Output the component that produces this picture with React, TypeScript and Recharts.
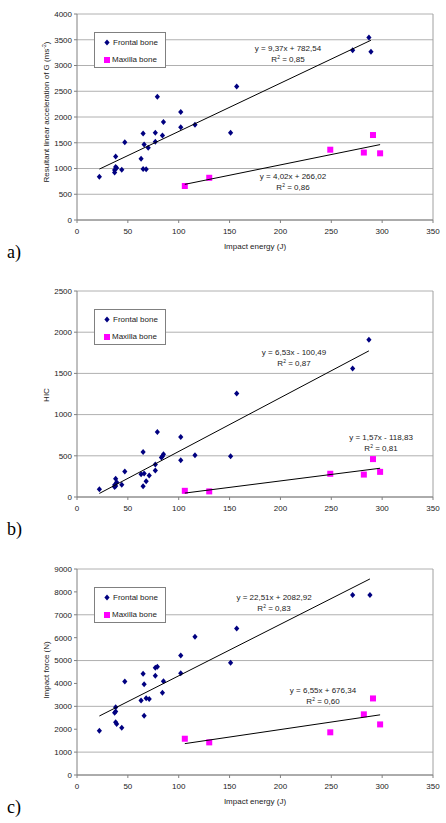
import { CartesianGrid, ReferenceLine, Scatter, ScatterChart, XAxis, YAxis } from "recharts";

const energyTicks = [0, 50, 100, 150, 200, 250, 300, 350];
const maxillaEnergy = [106, 130, 249, 282, 291, 298];

// a) resultant linear acceleration
const accelFrontalEnergy = [22, 37, 37, 38, 39, 38, 44, 47, 63, 65, 68, 65, 66, 70, 77, 77, 79, 84, 85, 102, 102, 116, 151, 157, 271, 287, 289];
const accelFrontal = [840, 920, 970, 1030, 1010, 1235, 975, 1510, 1190, 990, 985, 1680, 1465, 1405, 1520, 1695, 2395, 1640, 1905, 1800, 2095, 1850, 1695, 2590, 3295, 3545, 3265];
const accelMaxilla = [660, 820, 1365, 1310, 1650, 1295];
const accelTicks = [0, 500, 1000, 1500, 2000, 2500, 3000, 3500, 4000];

// b) HIC
const hicFrontalEnergy = [22, 37, 37, 38, 39, 38, 44, 47, 63, 65, 68, 65, 66, 71, 77, 77, 79, 83, 84, 85, 102, 102, 116, 151, 157, 271, 287];
const hicFrontal = [95, 145, 120, 220, 180, 135, 150, 310, 275, 130, 190, 545, 285, 262, 323, 395, 790, 480, 495, 520, 446, 728, 506, 494, 1257, 1560, 1908];
const hicMaxilla = [75, 68, 282, 272, 460, 305];
const hicTicks = [0, 500, 1000, 1500, 2000, 2500];

// c) impact force
const forceFrontalEnergy = [22, 37, 38, 38, 38, 39, 44, 47, 63, 65, 66, 66, 68, 71, 77, 77, 79, 84, 85, 102, 102, 116, 151, 157, 271, 288];
const forceFrontal = [1930, 2720, 2770, 2955, 2300, 2225, 2065, 4080, 3260, 4425, 3960, 2585, 3350, 3320, 4335, 4690, 4730, 3595, 4095, 4440, 5225, 6040, 4905, 6405, 7860, 7860];
const forceMaxilla = [1585, 1425, 1865, 2650, 3345, 2210];
const forceTicks = [0, 1000, 2000, 3000, 4000, 5000, 6000, 7000, 8000, 9000];

// trend line coefficients [slope, intercept]
const accelFrontalFit = [9.37, 782.54];
const accelMaxillaFit = [4.02, 266.02];
const hicFrontalFit = [6.53, -100.49];
const hicMaxillaFit = [1.57, -118.83];
const forceFrontalFit = [22.51, 2082.92];
const forceMaxillaFit = [6.55, 676.34];

const FONT = "'Liberation Sans', Arial, sans-serif";
const TEXT = "#222";

const pairs = (xs: number[], ys: number[]) => xs.map((x, i) => ({ x, y: ys[i] }));
const trend = (xs: number[], [m, b]: number[]) => {
  const lo = Math.min(...xs);
  const hi = Math.max(...xs);
  return [
    { x: lo, y: m * lo + b },
    { x: hi, y: m * hi + b },
  ];
};

const Diamond = (p: any) => (
  <polygon
    points={`${p.cx},${p.cy - 3} ${p.cx + 2.6},${p.cy} ${p.cx},${p.cy + 3} ${p.cx - 2.6},${p.cy}`}
    fill="#000080"
  />
);
const Square = (p: any) => <rect x={p.cx - 3} y={p.cy - 3} width={6} height={6} fill="#FF00FF" />;
const NoDot = () => <g />;

function Equation({ x, y, text, r2 }: { x: number; y: number; text: string; r2: string }) {
  return (
    <div
      style={{
        position: "absolute",
        left: x,
        top: y - 6,
        transform: "translateX(-50%)",
        fontFamily: FONT,
        fontSize: 8,
        lineHeight: "11px",
        color: TEXT,
        textAlign: "center",
        whiteSpace: "nowrap",
      }}
    >
      <div>{text}</div>
      <div>
        R<span style={{ fontSize: 5, position: "relative", top: -3 }}>2</span> = {r2}
      </div>
    </div>
  );
}

function LegendBox() {
  return (
    <div
      style={{
        position: "absolute",
        left: 94,
        top: 32,
        width: 70,
        height: 34,
        background: "#fff",
        border: "1px solid #808080",
        fontFamily: FONT,
        fontSize: 8,
        color: TEXT,
      }}
    >
      <div style={{ position: "absolute", left: 9, top: 5, display: "flex", alignItems: "center", gap: 3 }}>
        <svg width={6} height={7}>
          <polygon points="3,0.5 5.6,3.5 3,6.5 0.4,3.5" fill="#000080" />
        </svg>
        Frontal bone
      </div>
      <div style={{ position: "absolute", left: 9, top: 22, display: "flex", alignItems: "center", gap: 2 }}>
        <svg width={6} height={6}>
          <rect width={6} height={6} fill="#FF00FF" />
        </svg>
        Maxilla bone
      </div>
    </div>
  );
}

type PanelProps = {
  top: number;
  letter: string;
  yTicks: number[];
  yTitle: React.ReactNode;
  yTitleY: number;
  xTitle: boolean;
  frontalX: number[];
  frontalY: number[];
  maxillaY: number[];
  frontalFit: number[];
  maxillaFit: number[];
  frontalEq: { x: number; y: number; text: string; r2: string };
  maxillaEq: { x: number; y: number; text: string; r2: string };
};

function Panel(p: PanelProps) {
  const yMax = p.yTicks[p.yTicks.length - 1];
  return (
    <div style={{ position: "absolute", left: 0, top: p.top, width: 446, height: 265 }}>
      <ScatterChart width={446} height={240} margin={{ top: 14, right: 13, bottom: 0, left: 0 }}>
        <CartesianGrid vertical={false} stroke="#b0b0b0" />
        <XAxis
          type="number"
          dataKey="x"
          domain={[0, 350]}
          ticks={energyTicks}
          height={20}
          tickSize={3}
          tickMargin={5}
          stroke="#808080"
          tick={{ fill: TEXT, fontSize: 8, fontFamily: FONT }}
        />
        <YAxis
          type="number"
          dataKey="y"
          domain={[0, yMax]}
          ticks={p.yTicks}
          width={77}
          tickSize={3}
          tickMargin={2}
          stroke="#808080"
          tick={{ fill: TEXT, fontSize: 8, fontFamily: FONT }}
        />
        <ReferenceLine x={350} stroke="#a0a0a0" />
        <Scatter
          name="Frontal bone"
          data={pairs(p.frontalX, p.frontalY)}
          shape={Diamond}
          isAnimationActive={false}
        />
        <Scatter
          name="Maxilla bone"
          data={pairs(maxillaEnergy, p.maxillaY)}
          shape={Square}
          isAnimationActive={false}
        />
        <Scatter
          data={trend(p.frontalX, p.frontalFit)}
          line={{ stroke: "#000", strokeWidth: 1 }}
          shape={NoDot}
          legendType="none"
          isAnimationActive={false}
        />
        <Scatter
          data={trend(maxillaEnergy, p.maxillaFit)}
          line={{ stroke: "#000", strokeWidth: 1 }}
          shape={NoDot}
          legendType="none"
          isAnimationActive={false}
        />
      </ScatterChart>
      <LegendBox />
      <Equation {...p.frontalEq} />
      <Equation {...p.maxillaEq} />
      <div
        style={{
          position: "absolute",
          left: 46,
          top: p.yTitleY,
          transform: "translate(-50%, -50%) rotate(-90deg)",
          fontFamily: FONT,
          fontSize: 8,
          color: TEXT,
          whiteSpace: "nowrap",
        }}
      >
        {p.yTitle}
      </div>
      {p.xTitle && (
        <div
          style={{
            position: "absolute",
            left: 255,
            top: 246,
            transform: "translate(-50%, -50%)",
            fontFamily: FONT,
            fontSize: 8,
            color: TEXT,
            whiteSpace: "nowrap",
          }}
        >
          Impact energy (J)
        </div>
      )}
      <div
        style={{
          position: "absolute",
          left: 7,
          top: 242,
          fontFamily: "'Liberation Serif', 'Times New Roman', serif",
          fontSize: 18,
          lineHeight: "20px",
          color: "#000",
        }}
      >
        {p.letter}
      </div>
    </div>
  );
}

export default function App() {
  return (
    <div style={{ position: "absolute", left: 0, top: 0, width: 446, height: 823, background: "#fff" }}>
      <Panel
        top={0}
        letter="a)"
        yTicks={accelTicks}
        yTitle={
          <>
            Resultant linear acceleration of G (ms<span style={{ fontSize: 5, position: "relative", top: -3 }}>-2</span>)
          </>
        }
        yTitleY={112}
        xTitle
        frontalX={accelFrontalEnergy}
        frontalY={accelFrontal}
        maxillaY={accelMaxilla}
        frontalFit={accelFrontalFit}
        maxillaFit={accelMaxillaFit}
        frontalEq={{ x: 288, y: 49, text: "y = 9,37x + 782,54", r2: "0,85" }}
        maxillaEq={{ x: 293, y: 177, text: "y = 4,02x + 266,02", r2: "0,86" }}
      />
      <Panel
        top={277}
        letter="b)"
        yTicks={hicTicks}
        yTitle="HIC"
        yTitleY={118}
        xTitle={false}
        frontalX={hicFrontalEnergy}
        frontalY={hicFrontal}
        maxillaY={hicMaxilla}
        frontalFit={hicFrontalFit}
        maxillaFit={hicMaxillaFit}
        frontalEq={{ x: 294, y: 76, text: "y = 6,53x - 100,49", r2: "0,87" }}
        maxillaEq={{ x: 381, y: 161, text: "y = 1,57x - 118,83", r2: "0,81" }}
      />
      <Panel
        top={555}
        letter="c)"
        yTicks={forceTicks}
        yTitle="Impact force (N)"
        yTitleY={115}
        xTitle
        frontalX={forceFrontalEnergy}
        frontalY={forceFrontal}
        maxillaY={forceMaxilla}
        frontalFit={forceFrontalFit}
        maxillaFit={forceMaxillaFit}
        frontalEq={{ x: 274, y: 43, text: "y = 22,51x + 2082,92", r2: "0,83" }}
        maxillaEq={{ x: 323, y: 136, text: "y = 6,55x + 676,34", r2: "0,60" }}
      />
    </div>
  );
}
